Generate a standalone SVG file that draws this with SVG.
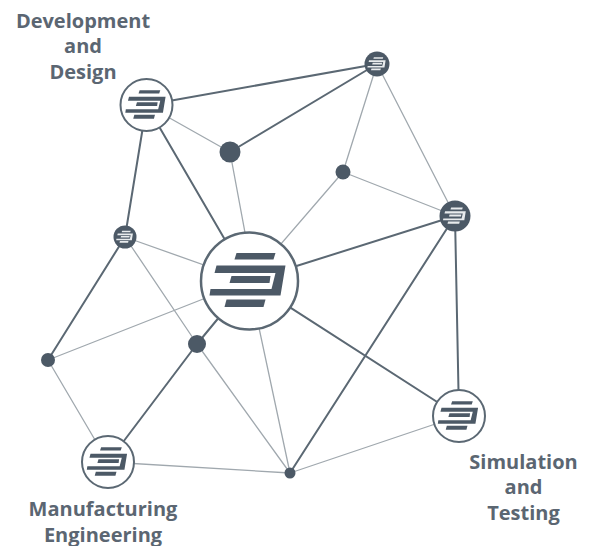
<svg xmlns="http://www.w3.org/2000/svg" width="593" height="546" viewBox="0 0 593 546">
<style>
.dk{stroke:#5b6873;stroke-width:2;fill:none}
.lt{stroke:#a0a8ae;stroke-width:1.3;fill:none}
.ring{fill:#fff;stroke:#5b6873}
.solid{fill:#4c5966}
.lbl{font-family:"Open Sans",sans-serif;font-weight:700;font-size:20px;fill:#5b6672;text-anchor:middle}
</style>
<defs>
<g id="logo">
<path d="M-13-28H26L24-21.500H-15Z"/>
<path d="M-33-15.500H36L31 14.500H-40L-39 8H22L26-8H-35Z"/>
<path d="M-18-5H21L20 2H-20Z"/>
<path d="M-23 18.500H16L14 26H-25Z"/>
</g>
</defs>
<rect width="593" height="546" fill="#fff"/>
<g id="connectors">
<path class="dk" d="M146.500 105L377 64M146.500 105L249 281M146.500 105L125 237M230 152L377 64M125 237L48 360M197 344L249 281M197 344L108 462M249 281L455 216M249 281L459 416M455 216L459 416M455 216L290 473"/>
<path class="lt" d="M146.500 105L230 152M230 152L254 281M377 64L343 172M377 64L455 216M343 172L455 216M343 172L249 281M125 237L249 281M125 237L197 344M48 360L249 281M48 360L108 462M108 462L290 473M197 344L290 473M249 281L290 473M459 416L290 473"/>
</g>
<g id="node-development"><circle class="ring" stroke-width="2" cx="146.500" cy="105" r="26"/><use href="#logo" fill="#4c5966" transform="translate(146.500 105) scale(.53)"/></g>
<g id="node-top"><circle class="solid" cx="377" cy="64" r="12.500"/><use href="#logo" fill="#e8ebed" transform="translate(377 64) scale(.24)"/></g>
<g id="node-dot-a"><circle class="solid" cx="230" cy="152" r="10.500"/></g>
<g id="node-dot-b"><circle class="solid" cx="343" cy="172" r="7.500"/></g>
<g id="node-right"><circle class="solid" cx="455" cy="216" r="15.500"/><use href="#logo" fill="#e8ebed" transform="translate(455 216) scale(.3)"/></g>
<g id="node-left"><circle class="solid" cx="125" cy="237" r="11.500"/><use href="#logo" fill="#e8ebed" transform="translate(125 237) scale(.22)"/></g>
<g id="node-center"><circle class="ring" stroke-width="2.500" cx="249.500" cy="281" r="48.500"/><use href="#logo" fill="#4c5966" transform="translate(249.500 281)"/></g>
<g id="node-dot-c"><circle class="solid" cx="48" cy="360" r="7"/></g>
<g id="node-dot-d"><circle class="solid" cx="197" cy="344" r="9"/></g>
<g id="node-manufacturing"><circle class="ring" stroke-width="2" cx="108" cy="462" r="26"/><use href="#logo" fill="#4c5966" transform="translate(108 462) scale(.53)"/></g>
<g id="node-simulation"><circle class="ring" stroke-width="2" cx="459" cy="416" r="26"/><use href="#logo" fill="#4c5966" transform="translate(459 416) scale(.53)"/></g>
<g id="node-dot-e"><circle class="solid" cx="290" cy="473" r="5.500"/></g>
<g id="labels">
<text class="lbl" x="83" y="28">Development</text>
<text class="lbl" x="83" y="53">and</text>
<text class="lbl" x="83" y="79">Design</text>
<text class="lbl" x="523.500" y="469">Simulation</text>
<text class="lbl" x="523.500" y="494">and</text>
<text class="lbl" x="523.500" y="520">Testing</text>
<text class="lbl" x="103" y="516">Manufacturing</text>
<text class="lbl" x="103" y="541.500">Engineering</text>
</g>
</svg>
